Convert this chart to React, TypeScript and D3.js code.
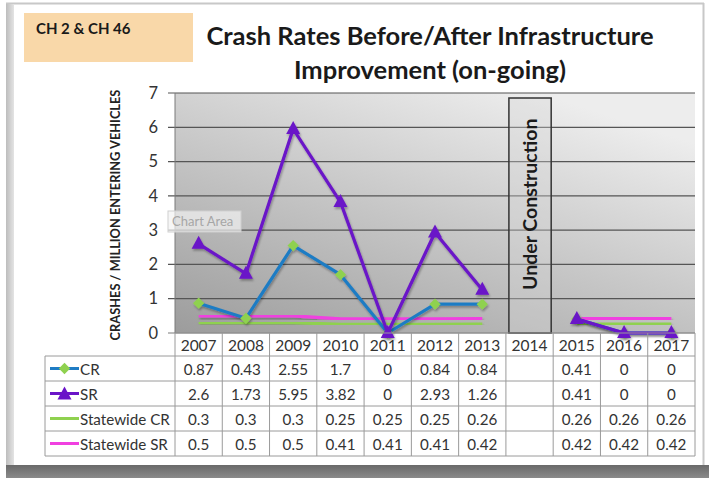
import React from 'react';
import * as d3 from 'd3';

// values
const years = ['2007', '2008', '2009', '2010', '2011', '2012', '2013', '2014', '2015', '2016', '2017'];
const crValues = [0.87, 0.43, 2.55, 1.7, 0, 0.84, 0.84, null, 0.41, 0, 0];
const srValues = [2.6, 1.73, 5.95, 3.82, 0, 2.93, 1.26, null, 0.41, 0, 0];
const stateCrValues = [0.3, 0.3, 0.3, 0.25, 0.25, 0.25, 0.26, null, 0.26, 0.26, 0.26];
const stateSrValues = [0.5, 0.5, 0.5, 0.41, 0.41, 0.41, 0.42, null, 0.42, 0.42, 0.42];
const yTicks = [0, 1, 2, 3, 4, 5, 6, 7];

const FONT = 'Lato, "Open Sans", sans-serif';

type Row = { name: string; values: (number | null)[]; color: string; marker: string | null };

const rows: Row[] = [
  { name: 'CR', values: crValues, color: '#1f7cc4', marker: 'diamond' },
  { name: 'SR', values: srValues, color: '#6a14c8', marker: 'triangle' },
  { name: 'Statewide CR', values: stateCrValues, color: '#8fd14f', marker: null },
  { name: 'Statewide SR', values: stateSrValues, color: '#f040e0', marker: null },
];

function Marker({ type, x, y }: { type: string | null; x: number; y: number }) {
  if (type === 'diamond') {
    return <rect x={x - 4} y={y - 4} width={8} height={8} fill="#8fd14f"
      transform={`rotate(45 ${x} ${y})`} />;
  }
  if (type === 'triangle') {
    return <path d={`M${x},${y - 8}L${x + 7},${y + 5}L${x - 7},${y + 5}Z`} fill="#6a14c8" />;
  }
  return null;
}

export default function App() {
  const width = 709;
  const height = 478;
  const plotLeft = 175;
  const plotRight = 695;
  const plotTop = 93;
  const plotBottom = 333;

  const x = d3.scaleBand<string>().domain(years).range([plotLeft, plotRight]).padding(0);
  const y = d3.scaleLinear().domain([0, 7]).range([plotBottom, plotTop]);
  const cx = (i: number) => (x(years[i]) as number) + x.bandwidth() / 2;

  const line = d3.line<number | null>()
    .defined(d => d !== null)
    .x((_, i) => cx(i))
    .y(d => y(d as number));

  const rowH = 25;
  const headerTop = plotBottom;
  const headerH = 23;
  const tableLeft = 45;
  const tableBottom = headerTop + headerH + rows.length * rowH;
  const gridColor = '#9a9a9a';

  // plot order: statewide lines behind, then CR, then SR
  const drawOrder = [3, 2, 0, 1];
  const constrIdx = years.indexOf('2014');
  const cLeft = (x('2014') as number) + 2;
  const cW = x.bandwidth() - 4;

  return (
    <svg width={width} height={height} style={{ position: 'absolute', left: 0, top: 0 }}
      fontFamily={FONT}>
      <defs>
        <linearGradient id="plotBg" x1="0" y1="1" x2="0.7" y2="0">
          <stop offset="0" stopColor="#9c9c9c" />
          <stop offset="0.55" stopColor="#c8c8c8" />
          <stop offset="1" stopColor="#ededed" />
        </linearGradient>
        <linearGradient id="leftBar" x1="0" y1="0" x2="1" y2="0">
          <stop offset="0" stopColor="#bdbdbd" />
          <stop offset="1" stopColor="#e4e4e4" />
        </linearGradient>
        <linearGradient id="bottomBar" x1="0" y1="0" x2="0" y2="1">
          <stop offset="0" stopColor="#6a6a6a" />
          <stop offset="1" stopColor="#8a8a8a" />
        </linearGradient>
        <filter id="shadow" x="-5%" y="-5%" width="110%" height="120%">
          <feDropShadow dx="1" dy="2" stdDeviation="1.2" floodColor="#000" floodOpacity="0.3" />
        </filter>
      </defs>

      {/* outer frame */}
      <rect x={0} y={0} width={width} height={height} fill="#ffffff" />
      <line x1={6} x2={704} y1={3.5} y2={3.5} stroke="#c8c8c8" strokeWidth={2} />
      <rect x={6} y={4} width={8} height={462} fill="url(#leftBar)" />
      <line x1={703.5} x2={703.5} y1={3} y2={466} stroke="#c8c8c8" strokeWidth={2} />
      <rect x={6} y={465} width={703} height={13} fill="url(#bottomBar)" />

      {/* label box */}
      <rect x={24} y={13} width={169} height={49} fill="#f9d8a9" />
      <text x={36} y={34} fontSize={15} fontWeight={700} fill="#1a1a1a">CH 2 &amp; CH 46</text>

      {/* title */}
      <text x={430} y={45} fontSize={25.5} fontWeight={700} fill="#1a1a1a" textAnchor="middle">
        Crash Rates Before/After Infrastructure
      </text>
      <text x={430} y={79} fontSize={25.5} fontWeight={700} fill="#1a1a1a" textAnchor="middle">
        Improvement (on-going)
      </text>

      {/* plot area */}
      <rect x={plotLeft} y={plotTop} width={plotRight - plotLeft} height={plotBottom - plotTop}
        fill="url(#plotBg)" />
      {yTicks.map(t => (
        <g key={t}>
          <line x1={plotLeft - 7} x2={plotRight} y1={y(t)} y2={y(t)}
            stroke={t === 0 ? '#7a7a7a' : '#555555'} strokeWidth={1.2} />
          <text x={158} y={y(t)} dy="0.35em" fontSize={16.5} fill="#333" textAnchor="end">{t}</text>
        </g>
      ))}
      <line x1={plotLeft} x2={plotLeft} y1={plotTop} y2={plotBottom} stroke="#7a7a7a" />

      <text transform={`translate(120,${(plotTop + plotBottom) / 2 + 2}) rotate(-90)`}
        fontSize={12.8} fontWeight={700} fill="#222" textAnchor="middle">
        CRASHES / MILLION ENTERING VEHICLES
      </text>

      {/* under construction marker */}
      <rect x={cLeft + 1} y={98} width={cW - 1} height={plotBottom - 98}
        fill="#d6d6d6" fillOpacity={0.35} stroke="#333" strokeWidth={1.5} />
      <text transform={`translate(${cx(constrIdx) + 7},290) rotate(-90)`}
        fontSize={19.5} fontWeight={700} fill="#1a1a1a">Under Construction</text>

      {/* series */}
      {drawOrder.map(ri => {
        const r = rows[ri];
        return (
          <g key={r.name} filter="url(#shadow)">
            <path d={line(r.values) || ''} fill="none" stroke={r.color}
              strokeWidth={3.2} strokeLinejoin="round" />
            {r.values.map((v, i) => (v === null ? null
              : <Marker key={i} type={r.marker} x={cx(i)} y={y(v)} />))}
          </g>
        );
      })}

      {/* chart area tooltip */}
      <rect x={168} y={211} width={73} height={21} fill="#f2f2f2" fillOpacity={0.7}
        stroke="#cfcfcf" />
      <text x={172} y={226} fontSize={13} fill="#a6a6a6">Chart Area</text>

      {/* data table */}
      <g fill="none" stroke={gridColor} strokeWidth={1}>
        <line x1={plotLeft} x2={plotRight} y1={headerTop} y2={headerTop} />
        {d3.range(rows.length + 1).map(k => (
          <line key={k} x1={tableLeft} x2={plotRight}
            y1={headerTop + headerH + k * rowH} y2={headerTop + headerH + k * rowH} />
        ))}
        <line x1={tableLeft} x2={tableLeft} y1={headerTop + headerH} y2={tableBottom} />
        {years.map(yr => (
          <line key={yr} x1={x(yr)} x2={x(yr)} y1={headerTop} y2={tableBottom} />
        ))}
        <line x1={plotRight} x2={plotRight} y1={headerTop} y2={tableBottom} />
      </g>
      {years.map(yr => (
        <text key={yr} x={(x(yr) as number) + x.bandwidth() / 2} y={headerTop + headerH / 2 + 1}
          dy="0.35em" fontSize={15.5} fill="#333" textAnchor="middle">{yr}</text>
      ))}
      {rows.map((r, ri) => {
        const rowY = headerTop + headerH + ri * rowH + rowH / 2;
        return (
          <g key={r.name}>
            <line x1={50} x2={79} y1={rowY} y2={rowY} stroke={r.color} strokeWidth={3} />
            <Marker type={r.marker} x={64.5} y={rowY + (r.marker === 'triangle' ? 1 : 0)} />
            <text x={80} y={rowY + 1} dy="0.35em" fontSize={15.2} fill="#333">{r.name}</text>
            {r.values.map((v, i) => (v === null ? null : (
              <text key={i} x={cx(i)} y={rowY + 1} dy="0.35em" fontSize={15.2} fill="#333"
                textAnchor="middle">{v}</text>
            )))}
          </g>
        );
      })}
    </svg>
  );
}
